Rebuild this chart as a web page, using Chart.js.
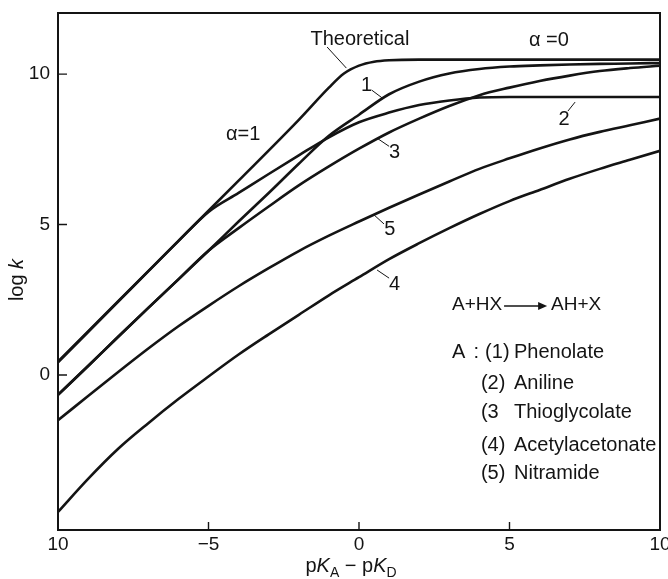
<!DOCTYPE html>
<html>
<head>
<meta charset="utf-8">
<script src="https://cdn.jsdelivr.net/npm/chart.js@4.4.1/dist/chart.umd.min.js"></script>
<style>
  html, body { margin: 0; padding: 0; background: #fff; }
  #wrap { width: 668px; height: 579px; }
</style>
</head>
<body>
<div id="wrap"><canvas id="chart" width="668" height="579"></canvas></div>
<script>
// ===== data =====
const xGrid = [-10, -9, -8, -7, -6, -5, -4, -3, -2, -1, 0, 1, 2, 3, 4, 5, 6, 7, 8, 9, 10];

const theoreticalX = [-10, -8, -6, -4, -2, -1, -0.5, 0, 0.5, 1, 2, 4, 6, 8, 10];
const theoreticalY = [0.42, 2.44, 4.46, 6.46, 8.48, 9.55, 10.02, 10.28, 10.41, 10.46, 10.48, 10.48, 10.48, 10.48, 10.48];

const phenolate       = [-0.66, 0.3, 1.27, 2.23, 3.18, 4.13, 5.1, 6.05, 7.02, 7.95, 8.65, 9.33, 9.75, 10.02, 10.17, 10.25, 10.29, 10.32, 10.34, 10.35, 10.37];
const aniline         = [0.45, 1.45, 2.45, 3.45, 4.45, 5.42, 6.05, 6.68, 7.3, 7.9, 8.4, 8.72, 8.97, 9.12, 9.22, 9.24, 9.24, 9.24, 9.24, 9.24, 9.24];
const thioglycolate   = [-0.66, 0.3, 1.27, 2.23, 3.18, 4.13, 4.88, 5.6, 6.3, 6.93, 7.52, 8.06, 8.52, 8.94, 9.3, 9.55, 9.77, 9.95, 10.1, 10.2, 10.28];
const acetylacetonate = [-4.55, -3.45, -2.45, -1.6, -0.8, -0.05, 0.68, 1.35, 2.0, 2.65, 3.25, 3.85, 4.38, 4.88, 5.35, 5.78, 6.15, 6.52, 6.85, 7.15, 7.45];
const nitramide       = [-1.5, -0.7, 0.1, 0.88, 1.62, 2.3, 2.95, 3.55, 4.12, 4.63, 5.1, 5.56, 6.0, 6.43, 6.85, 7.2, 7.53, 7.83, 8.08, 8.3, 8.52];

const xTicks = [-10, -5, 0, 5, 10];
const xTickLabels = ['10', '\u22125', '0', '5', '10'];
const yTicks = [0, 5, 10];
const yTickLabels = ['0', '5', '10'];

// curve labels and their little pointer lines, in data units
const notes = [
  { t: 'Theoretical', x: 0.03, y: 11.15 },
  { t: '\u03b1 =0', x: 6.31, y: 11.12 },
  { t: '\u03b1=1', x: -3.85, y: 8.0 },
  { t: '1', x: 0.25, y: 9.63 },
  { t: '2', x: 6.81, y: 8.5 },
  { t: '3', x: 1.18, y: 7.38 },
  { t: '5', x: 1.02, y: 4.82 },
  { t: '4', x: 1.18, y: 3.02 }
];
const leaders = [
  [-1.06, 10.9, -0.42, 10.2],
  [0.42, 9.47, 0.78, 9.2],
  [6.94, 8.77, 7.18, 9.07],
  [1.0, 7.6, 0.6, 7.87],
  [0.83, 5.02, 0.5, 5.32],
  [1.0, 3.22, 0.6, 3.49]
];
const legendRows = [
  { tag: '(2)', name: 'Aniline', y: -0.27 },
  { tag: '(3', name: 'Thioglycolate', y: -1.26 },
  { tag: '(4)', name: 'Acetylacetonate', y: -2.33 },
  { tag: '(5)', name: 'Nitramide', y: -3.26 }
];

// ===== helpers =====
const INK = '#141414';
const FONT = "'Liberation Sans', Arial, sans-serif";
const pts = (xs, ys) => xs.map((x, i) => ({ x, y: ys[i] }));
const curve = (label, data) => ({
  label, data, borderColor: INK, borderWidth: 2.6, pointRadius: 0,
  cubicInterpolationMode: 'monotone', fill: false
});

const decor = {
  id: 'decor',
  afterDraw(chart) {
    const { ctx, chartArea: a, scales: { x, y } } = chart;
    const px = v => x.getPixelForValue(v), py = v => y.getPixelForValue(v);
    ctx.save();
    ctx.strokeStyle = INK; ctx.fillStyle = INK;

    // frame + inward ticks
    ctx.lineWidth = 2;
    ctx.strokeRect(a.left, a.top, a.right - a.left, a.bottom - a.top);
    ctx.lineWidth = 1.4;
    ctx.beginPath();
    xTicks.slice(1, -1).forEach(v => { ctx.moveTo(px(v), a.bottom); ctx.lineTo(px(v), a.bottom - 8); });
    yTicks.forEach(v => { ctx.moveTo(a.left, py(v)); ctx.lineTo(a.left + 9, py(v)); });
    ctx.stroke();

    // pointer lines
    ctx.lineWidth = 1;
    ctx.beginPath();
    leaders.forEach(l => { ctx.moveTo(px(l[0]), py(l[1])); ctx.lineTo(px(l[2]), py(l[3])); });
    ctx.stroke();

    // curve labels
    ctx.font = '20px ' + FONT;
    ctx.textAlign = 'center'; ctx.textBaseline = 'middle';
    notes.forEach(n => ctx.fillText(n.t, px(n.x), py(n.y)));

    // reaction + key
    ctx.textAlign = 'left';
    ctx.font = '19px ' + FONT;
    ctx.fillText('A+HX', px(3.09), py(2.33));
    ctx.fillText('AH+X', px(6.38), py(2.33));
    const ax0 = px(4.82), ax1 = px(6.25), ay = py(2.33) + 1;
    ctx.lineWidth = 1.5;
    ctx.beginPath(); ctx.moveTo(ax0, ay); ctx.lineTo(ax1 - 6, ay); ctx.stroke();
    ctx.beginPath(); ctx.moveTo(ax1, ay); ctx.lineTo(ax1 - 9, ay - 4); ctx.lineTo(ax1 - 9, ay + 4); ctx.closePath(); ctx.fill();

    ctx.font = '20px ' + FONT;
    ctx.fillText('A', px(3.09), py(0.76));
    ctx.fillText(':', px(3.8), py(0.76));
    ctx.fillText('(1)', px(4.19), py(0.76));
    ctx.fillText('Phenolate', px(5.15), py(0.76));
    legendRows.forEach(r => {
      ctx.fillText(r.tag, px(4.05), py(r.y));
      ctx.fillText(r.name, px(5.15), py(r.y));
    });

    // axis titles
    ctx.textBaseline = 'alphabetic';
    const norm = '20px ' + FONT, ital = 'italic 20px ' + FONT, sub = '14px ' + FONT;
    const parts = [['p', norm, 0], ['K', ital, 0], ['A', sub, 5], [' \u2212 p', norm, 0], ['K', ital, 0], ['D', sub, 5]];
    let w = 0;
    parts.forEach(p => { ctx.font = p[1]; w += ctx.measureText(p[0]).width; });
    let cx = (a.left + a.right) / 2 - 8 - w / 2;
    parts.forEach(p => { ctx.font = p[1]; ctx.fillText(p[0], cx, 572 + p[2]); cx += ctx.measureText(p[0]).width; });

    ctx.translate(23, 280);
    ctx.rotate(-Math.PI / 2);
    ctx.font = norm; const w1 = ctx.measureText('log ').width;
    ctx.font = ital; const w2 = ctx.measureText('k').width;
    ctx.font = norm; ctx.fillText('log ', -(w1 + w2) / 2, 0);
    ctx.font = ital; ctx.fillText('k', -(w1 + w2) / 2 + w1, 0);
    ctx.restore();
  }
};

Chart.defaults.font.family = FONT;
Chart.defaults.font.size = 19;
Chart.defaults.color = INK;

new Chart(document.getElementById('chart'), {
  type: 'line',
  data: {
    datasets: [
      curve('Theoretical', pts(theoreticalX, theoreticalY)),
      curve('(1) Phenolate', pts(xGrid, phenolate)),
      curve('(2) Aniline', pts(xGrid, aniline)),
      curve('(3) Thioglycolate', pts(xGrid, thioglycolate)),
      curve('(4) Acetylacetonate', pts(xGrid, acetylacetonate)),
      curve('(5) Nitramide', pts(xGrid, nitramide))
    ]
  },
  options: {
    responsive: false,
    animation: false,
    devicePixelRatio: 1,
    layout: { padding: { top: 13, right: 8, left: 0, bottom: 0 } },
    plugins: { legend: { display: false }, tooltip: { enabled: false } },
    scales: {
      x: {
        type: 'linear', min: -10, max: 10,
        grid: { display: false, drawTicks: false }, border: { display: false },
        afterBuildTicks: s => { s.ticks = xTicks.map(v => ({ value: v })); },
        afterFit: s => { s.height = 49; s.paddingLeft = 0; s.paddingRight = 0; },
        ticks: { padding: 3, maxRotation: 0, callback: (v, i) => xTickLabels[i] }
      },
      y: {
        type: 'linear', min: -5.15, max: 12.03,
        grid: { display: false, drawTicks: false }, border: { display: false },
        afterBuildTicks: s => { s.ticks = yTicks.map(v => ({ value: v })); },
        afterFit: s => { s.width = 58; s.paddingTop = 0; s.paddingBottom = 0; },
        ticks: { padding: 8, callback: (v, i) => yTickLabels[i] }
      }
    }
  },
  plugins: [decor]
});
</script>
</body>
</html>
